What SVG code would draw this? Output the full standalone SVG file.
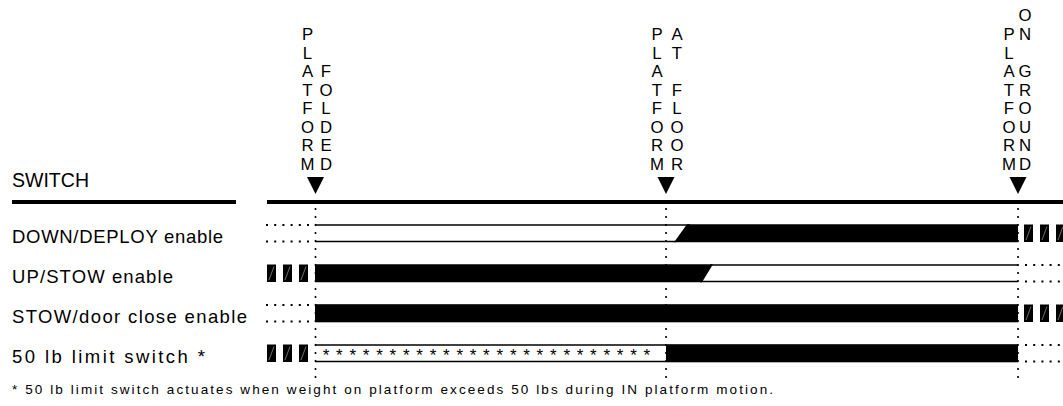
<svg xmlns="http://www.w3.org/2000/svg" width="1063" height="406" viewBox="0 0 1063 406">
<style>
text{font-family:"Liberation Sans","DejaVu Sans",sans-serif;fill:#000}
.lbl{font-size:18.5px}
.vt{font-size:16.8px;text-anchor:middle}
.thin{stroke:#000;stroke-width:1.6;fill:none}
.dots{stroke:#000;stroke-width:2;stroke-dasharray:2 6.2;fill:none}
.vdots{stroke:#000;stroke-width:1.6;stroke-dasharray:2 6;fill:none}
.bar{fill:#000}
.hl{stroke:#888;stroke-width:0.8}
.star{font-size:17px;text-anchor:middle}
</style>
<defs>
<g id="hatch"><rect x="0" y="0" width="9" height="17.5" fill="#000"/><line class="hl" x1="2" y1="15.5" x2="7" y2="2"/></g>
</defs>
<rect width="1063" height="406" fill="#fff"/>
<g id="header">
<text x="12" y="187" font-size="19.5" textLength="77" lengthAdjust="spacing">SWITCH</text>
<rect x="12" y="200" width="224" height="4" fill="#000"/>
<rect x="267" y="200" width="796" height="4" fill="#000"/>
</g>
<g id="connectors">
<line class="vdots" x1="315.5" y1="208" x2="315.5" y2="381"/>
<line class="vdots" x1="666" y1="208" x2="666" y2="381"/>
<line class="vdots" x1="1018" y1="208" x2="1018" y2="381"/>
</g>
<g id="marker-folded">
<text class="vt" x="307.5" y="40">P</text><text class="vt" x="307.5" y="58.6">L</text><text class="vt" x="307.5" y="77.1">A</text><text class="vt" x="307.5" y="95.7">T</text><text class="vt" x="307.5" y="114.3">F</text><text class="vt" x="307.5" y="132.9">O</text><text class="vt" x="307.5" y="151.4">R</text><text class="vt" x="307.5" y="170">M</text>
<text class="vt" x="326" y="77.1">F</text><text class="vt" x="326" y="95.7">O</text><text class="vt" x="326" y="114.3">L</text><text class="vt" x="326" y="132.9">D</text><text class="vt" x="326" y="151.4">E</text><text class="vt" x="326" y="170">D</text>
<polygon points="307,177 324,177 315.5,194" fill="#000"/>
</g>
<g id="marker-floor">
<text class="vt" x="657" y="40">P</text><text class="vt" x="657" y="58.6">L</text><text class="vt" x="657" y="77.1">A</text><text class="vt" x="657" y="95.7">T</text><text class="vt" x="657" y="114.3">F</text><text class="vt" x="657" y="132.9">O</text><text class="vt" x="657" y="151.4">R</text><text class="vt" x="657" y="170">M</text>
<text class="vt" x="677" y="40">A</text><text class="vt" x="677" y="58.6">T</text><text class="vt" x="677" y="95.7">F</text><text class="vt" x="677" y="114.3">L</text><text class="vt" x="677" y="132.9">O</text><text class="vt" x="677" y="151.4">O</text><text class="vt" x="677" y="170">R</text>
<polygon points="657.5,177 674.5,177 666,194" fill="#000"/>
</g>
<g id="marker-ground">
<text class="vt" x="1009" y="40">P</text><text class="vt" x="1009" y="58.6">L</text><text class="vt" x="1009" y="77.1">A</text><text class="vt" x="1009" y="95.7">T</text><text class="vt" x="1009" y="114.3">F</text><text class="vt" x="1009" y="132.9">O</text><text class="vt" x="1009" y="151.4">R</text><text class="vt" x="1009" y="170">M</text>
<text class="vt" x="1025" y="21.4">O</text><text class="vt" x="1025" y="40">N</text><text class="vt" x="1025" y="77.1">G</text><text class="vt" x="1025" y="95.7">R</text><text class="vt" x="1025" y="114.3">O</text><text class="vt" x="1025" y="132.9">U</text><text class="vt" x="1025" y="151.4">N</text><text class="vt" x="1025" y="170">D</text>
<polygon points="1009.5,177 1026.5,177 1018,194" fill="#000"/>
</g>
<g id="row-down">
<text class="lbl" x="12" y="242.5" textLength="211" lengthAdjust="spacing">DOWN/DEPLOY enable</text>
<line class="dots" x1="266" y1="225" x2="312" y2="225"/>
<line class="dots" x1="266" y1="241.5" x2="312" y2="241.5"/>
<line class="thin" x1="315" y1="225" x2="690" y2="225"/>
<line class="thin" x1="315" y1="241.5" x2="676" y2="241.5"/>
<polygon class="bar" points="674,242.3 687,224.2 1018,224.2 1018,242.3"/>
<use href="#hatch" x="1024" y="224.5"/><use href="#hatch" x="1040" y="224.5"/><use href="#hatch" x="1056" y="224.5"/>
</g>
<g id="row-up">
<text class="lbl" x="12" y="282.5" textLength="161" lengthAdjust="spacing">UP/STOW enable</text>
<use href="#hatch" x="267" y="264.5"/><use href="#hatch" x="283" y="264.5"/><use href="#hatch" x="299" y="264.5"/>
<polygon class="bar" points="315,264.2 713,264.2 702,282.3 315,282.3"/>
<line class="thin" x1="710" y1="265" x2="1018" y2="265"/>
<line class="thin" x1="700" y1="281.5" x2="1018" y2="281.5"/>
<line class="dots" x1="1025" y1="265" x2="1063" y2="265"/>
<line class="dots" x1="1025" y1="281.5" x2="1063" y2="281.5"/>
</g>
<g id="row-stow">
<text class="lbl" x="12" y="322.5" textLength="235" lengthAdjust="spacing">STOW/door close enable</text>
<line class="dots" x1="266" y1="305" x2="312" y2="305"/>
<line class="dots" x1="266" y1="321.5" x2="312" y2="321.5"/>
<rect class="bar" x="315" y="304.2" width="703" height="18.1"/>
<use href="#hatch" x="1024" y="304.5"/><use href="#hatch" x="1040" y="304.5"/><use href="#hatch" x="1056" y="304.5"/>
</g>
<g id="row-limit">
<text class="lbl" x="12" y="362.5" textLength="193" lengthAdjust="spacing">50 lb limit switch *</text>
<use href="#hatch" x="267" y="344.5"/><use href="#hatch" x="283" y="344.5"/><use href="#hatch" x="299" y="344.5"/>
<line class="thin" x1="315" y1="345" x2="666" y2="345"/>
<line class="thin" x1="315" y1="361.5" x2="666" y2="361.5"/>
<text class="star" x="326 339.4 352.7 366.1 379.5 392.8 406.2 419.6 433 446.3 459.7 473.1 486.4 499.8 513.2 526.6 539.9 553.3 566.7 580 593.4 606.8 620.1 633.5 646.9" y="361">*************************</text>
<rect class="bar" x="666" y="344.2" width="352" height="18.1"/>
<line class="dots" x1="1025" y1="345" x2="1063" y2="345"/>
<line class="dots" x1="1025" y1="361.5" x2="1063" y2="361.5"/>
</g>
<g id="footnote">
<text x="12" y="393.5" font-size="13.5" textLength="761" lengthAdjust="spacing">* 50 lb limit switch actuates when weight on platform exceeds 50 lbs during IN platform motion.</text>
</g>
</svg>
